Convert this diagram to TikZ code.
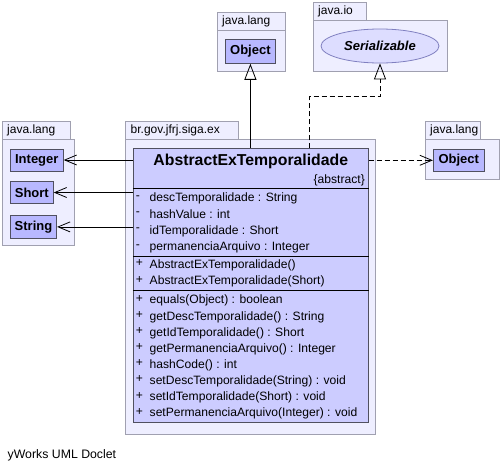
\documentclass[tikz,border=0pt]{standalone}
\usepackage{fontspec}
\setmainfont{Liberation Sans}
\usetikzlibrary{arrows.meta,shapes.geometric}
\definecolor{pkgfill}{RGB}{238,238,255}
\definecolor{pkgdraw}{RGB}{160,160,176}
\definecolor{clsfill}{RGB}{204,204,255}
\definecolor{clsdraw}{RGB}{80,80,96}
\definecolor{reffill}{RGB}{184,184,255}
\definecolor{ifcfill}{RGB}{221,221,255}
\begin{document}
\begin{tikzpicture}[x=1pt,y=-1pt,
  pkg/.style={draw=pkgdraw,fill=pkgfill,line width=0.8pt},
  pkglabel/.style={anchor=west,inner sep=0pt,font=\fontsize{12}{13}\selectfont},
  refcls/.style={draw=clsdraw,fill=reffill,line width=0.8pt,inner sep=0pt,font=\fontsize{13}{15}\selectfont\bfseries},
  member/.style={anchor=west,inner sep=0pt,font=\fontsize{12.1}{13}\selectfont},
  vis/.style={anchor=center,inner sep=0pt,font=\fontsize{12.1}{13}\selectfont},
  assoc/.style={line width=0.8pt,-{Straight Barb[length=12pt,width=10pt,line width=0.8pt]}},
  dep/.style={assoc,dash pattern=on 5pt off 3pt},
  inh/.style={line width=0.8pt,-{Triangle[open,length=16pt,width=12pt,line width=0.8pt]}}
]
\useasboundingbox (0,0) rectangle (501,471);
\fill[white] (0,0) rectangle (501,471);

% packages
\path[pkg] (2.3,121.7) rectangle (70.7,139.3);
\path[pkg] (2.3,139.3) rectangle (74,245);
\node[pkglabel] (pkgL) at (7,130.5) {java.lang};

\path[pkg] (125.7,121.7) rectangle (238.3,139.3);
\path[pkg] (125.7,139.3) rectangle (375,434);
\node[pkglabel] (pkgM) at (130.5,130.5) {br.gov.jfrj.siga.ex};

\path[pkg] (217.3,12.3) rectangle (285.7,30);
\path[pkg] (217.3,30) rectangle (285.7,71);
\node[pkglabel] (pkgT) at (222,21.2) {java.lang};

\path[pkg] (313.3,2.7) rectangle (366.7,20.7);
\path[pkg] (313.3,20.7) rectangle (447.3,71);
\node[pkglabel] (pkgIO) at (318,11.7) {java.io};

\path[pkg] (425,121.7) rectangle (480.7,139.3);
\path[pkg] (425,139.3) rectangle (499,179);
\node[pkglabel] (pkgR) at (430,130.5) {java.lang};

% referenced classes
\node[refcls,minimum width=53pt,minimum height=22pt] (int) at (36.8,160) {Integer};
\node[refcls,minimum width=43pt,minimum height=22.4pt] (short) at (31.8,192.5) {Short};
\node[refcls,minimum width=46.4pt,minimum height=22.3pt] (str) at (33.5,226.9) {String};
\node[refcls,minimum width=50.7pt,minimum height=24.3pt] (objT) at (250.4,51.2) {Object};
\node[refcls,minimum width=51pt,minimum height=22.7pt] (objR) at (458.8,160.3) {Object};
\node[ellipse,draw=pkgdraw!80!blue,fill=ifcfill,line width=0.8pt,minimum width=118pt,minimum height=34pt,inner sep=0pt,
      font=\fontsize{13}{15}\selectfont\bfseries\itshape] (ser) at (380,46) {Serializable};

% main class
\node[draw=clsdraw,fill=clsfill,line width=0.8pt,minimum width=235pt,minimum height=274.4pt,inner sep=0pt] (main) at (250.8,285.5) {};
\node[inner sep=0pt,font=\fontsize{15.8}{18}\selectfont\bfseries] (name) at (250.8,161.5) {AbstractExTemporalidade};
\node[inner sep=0pt,anchor=east,font=\fontsize{12.1}{13}\selectfont] (abs) at (365,180) {\{abstract\}};
\draw[line width=0.8pt] (main.west |- 0,188.3) -- (main.east |- 0,188.3);
\draw[line width=0.8pt] (main.west |- 0,256) -- (main.east |- 0,256);
\draw[line width=0.8pt] (main.west |- 0,290) -- (main.east |- 0,290);

\foreach \y/\t [count=\i] in {198.3/descTemporalidade : String,
  214.6/hashValue : int,
  230.9/idTemporalidade : Short,
  247.2/permanenciaArquivo : Integer}{
  \node[vis] (va\i) at (138,\y-1) {-};
  \node[member] (a\i) at (149.5,\y) {\t};
}
\foreach \y/\t [count=\i] in {265.3/AbstractExTemporalidade(),
  281.7/AbstractExTemporalidade(Short)}{
  \node[vis] (vc\i) at (139.5,\y-1.8) {+};
  \node[member] (c\i) at (149.5,\y) {\t};
}
\foreach \y/\t [count=\i] in {300.8/equals(Object) : boolean,
  316.9/getDescTemporalidade() : String,
  333/getIdTemporalidade() : Short,
  349.1/getPermanenciaArquivo() : Integer,
  365.2/hashCode() : int,
  381.3/setDescTemporalidade(String) : void,
  397.4/setIdTemporalidade(Short) : void,
  413.5/setPermanenciaArquivo(Integer) : void}{
  \node[vis] (vm\i) at (139.5,\y-1.8) {+};
  \node[member] (m\i) at (149.5,\y) {\t};
}

% connectors
\draw[assoc] (main.west |- int.east) -- (int.east);
\draw[assoc] (main.west |- short.east) -- (short.east);
\draw[assoc] (main.west |- str.east) -- (str.east);
\draw[dep] (main.east |- objR.west) -- (objR.west);
\draw[inh] (objT.south |- main.north) -- (objT.south);
\coordinate (r1) at (309.3,148.3);
\coordinate (r2) at (309.3,96.5);
\draw[inh,dash pattern=on 5pt off 3pt] (r1) -- (r2) -| (ser.south);

\node[anchor=west,inner sep=0pt,font=\fontsize{12.3}{14}\selectfont] (foot) at (7.5,455) {yWorks UML Doclet};
\end{tikzpicture}
\end{document}
